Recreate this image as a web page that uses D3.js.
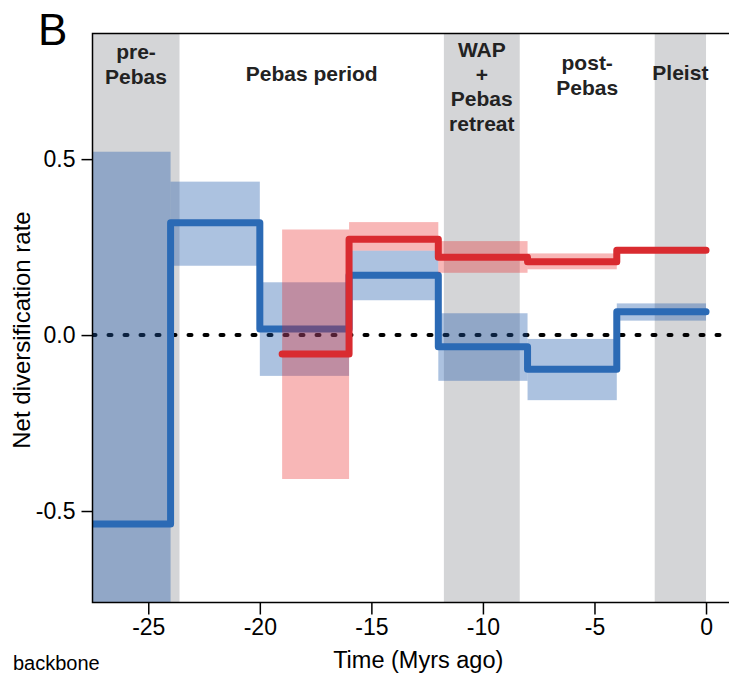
<!DOCTYPE html>
<html>
<head>
<meta charset="utf-8">
<script src="https://cdn.jsdelivr.net/npm/d3@7"></script>
<style>
  body { margin: 0; background: #fff; }
  text { font-family: "Liberation Sans", Arial, sans-serif; }
</style>
</head>
<body>
<div id="chart"></div>
<script>
// time slices (Myrs ago) and rates
var blueBreaks = [-27.5, -24, -20, -16, -12, -8, -4, 0];
var blueRate = [-0.537, 0.319, 0.017, 0.170, -0.033, -0.097, 0.066];
var blueLow = [-0.80, 0.197, -0.116, 0.099, -0.130, -0.185, 0.041];
var blueHigh = [0.521, 0.436, 0.150, 0.240, 0.062, -0.011, 0.090];

var redBreaks = [-19, -16, -12, -8, -4, 0];
var redRate = [-0.054, 0.272, 0.221, 0.208, 0.241];
var redLow = [-0.409, 0.240, 0.177, 0.187, 0.236];
var redHigh = [0.300, 0.321, 0.267, 0.232, 0.246];

// periods
var periodStart = [-27.5, -23.6, -11.75, -8.35, -2.3];
var periodEnd = [-23.6, -11.75, -8.35, -2.3, 0];
var periodShaded = [true, false, true, false, true];
var periodNames = [["pre-", "Pebas"], ["Pebas period"], ["WAP", "+", "Pebas", "retreat"], ["post-", "Pebas"], ["Pleist"]];
var periodTop = [59, 81, 57, 70, 80];

var xTicks = [-25, -20, -15, -10, -5, 0];
var yTicks = [-0.5, 0, 0.5];

var width = 729, height = 675;
var mLeft = 92.5, mTop = 33.5, mBottom = 602.5;

var svg = d3.select("#chart").append("svg")
  .attr("width", width)
  .attr("height", height);

var x = d3.scaleLinear().domain([-27.5, 1.5]).range([mLeft, mLeft + 29 * 22.31]);
var y = d3.scaleLinear().domain([-0.76, 0.857]).range([mBottom, mTop]);

svg.append("clipPath").attr("id", "plotclip")
  .append("rect")
  .attr("x", mLeft).attr("y", mTop)
  .attr("width", width - mLeft).attr("height", mBottom - mTop);

var plot = svg.append("g").attr("clip-path", "url(#plotclip)");

// shaded periods
var periods = d3.range(periodStart.length);
plot.selectAll("rect.band")
  .data(periods.filter(function(i) { return periodShaded[i]; }))
  .enter().append("rect")
  .attr("class", "band")
  .attr("x", function(i) { return x(periodStart[i]); })
  .attr("width", function(i) { return x(periodEnd[i]) - x(periodStart[i]); })
  .attr("y", mTop)
  .attr("height", mBottom - mTop)
  .attr("fill", "#d4d5d7");

// zero line
plot.append("line")
  .attr("x1", mLeft).attr("x2", width + 10)
  .attr("y1", y(0)).attr("y2", y(0))
  .attr("stroke", "#000")
  .attr("stroke-width", 4)
  .attr("stroke-linecap", "round")
  .attr("stroke-dasharray", "3,13");

function boxes(cls, breaks, low, high, col, op) {
  plot.selectAll("rect." + cls)
    .data(d3.range(low.length))
    .enter().append("rect")
    .attr("class", cls)
    .attr("x", function(i) { return x(breaks[i]); })
    .attr("width", function(i) { return x(breaks[i + 1]) - x(breaks[i]); })
    .attr("y", function(i) { return y(high[i]); })
    .attr("height", function(i) { return y(low[i]) - y(high[i]); })
    .attr("fill", col)
    .attr("fill-opacity", op);
}

function stepLine(breaks, rate, col) {
  var pts = rate.map(function(r, i) { return [breaks[i], r]; });
  pts.push([breaks[breaks.length - 1], rate[rate.length - 1]]);
  var line = d3.line()
    .x(function(d) { return x(d[0]); })
    .y(function(d) { return y(d[1]); })
    .curve(d3.curveStepAfter);
  plot.append("path")
    .attr("d", line(pts))
    .attr("fill", "none")
    .attr("stroke", col)
    .attr("stroke-width", 7)
    .attr("stroke-linejoin", "round")
    .attr("stroke-linecap", "round");
}

boxes("bluebox", blueBreaks, blueLow, blueHigh, "rgb(30,90,170)", 0.37);
stepLine(blueBreaks, blueRate, "#2b6ab5");
boxes("redbox", redBreaks, redLow, redHigh, "rgb(232,32,32)", 0.32);
stepLine(redBreaks, redRate, "#d92b30");

// period labels
periods.forEach(function(i) {
  var cx = x((periodStart[i] + periodEnd[i]) / 2);
  var t = svg.append("text")
    .attr("x", cx)
    .attr("y", periodTop[i])
    .attr("text-anchor", "middle")
    .attr("font-weight", "bold")
    .attr("font-size", 21)
    .attr("fill", "#222");
  periodNames[i].forEach(function(s, k) {
    t.append("tspan")
      .attr("x", cx)
      .attr("dy", k == 0 ? 0 : 24.5)
      .text(s);
  });
});

// frame (right side is off the page)
svg.append("path")
  .attr("d", "M" + (width + 5) + "," + mTop + "H" + mLeft + "V" + mBottom + "H" + (width + 5))
  .attr("fill", "none")
  .attr("stroke", "#000")
  .attr("stroke-width", 1.5);

// axes
var xAxis = svg.append("g")
  .attr("transform", "translate(0," + mBottom + ")")
  .call(d3.axisBottom(x).tickValues(xTicks).tickSize(12).tickPadding(4)
    .tickFormat(function(d) { return String(d); }));
xAxis.select(".domain").remove();
xAxis.selectAll("line").attr("stroke-width", 1.5);
xAxis.selectAll("text").attr("font-size", 23).attr("font-family", "Liberation Sans, Arial, sans-serif").attr("fill", "#000");

var yAxis = svg.append("g")
  .attr("transform", "translate(" + mLeft + ",0)")
  .call(d3.axisLeft(y).tickValues(yTicks).tickSize(11).tickPadding(6)
    .tickFormat(function(d) { return d.toFixed(1); }));
yAxis.select(".domain").remove();
yAxis.selectAll("line").attr("stroke-width", 1.5);
yAxis.selectAll("text").attr("font-size", 23).attr("font-family", "Liberation Sans, Arial, sans-serif").attr("fill", "#000");

svg.append("text")
  .attr("x", x(-12.9))
  .attr("y", 668)
  .attr("text-anchor", "middle")
  .attr("font-size", 23.5)
  .text("Time (Myrs ago)");

svg.append("text")
  .attr("transform", "translate(30,330) rotate(-90)")
  .attr("text-anchor", "middle")
  .attr("font-size", 24)
  .text("Net diversification rate");

svg.append("text")
  .attr("x", 38).attr("y", 45)
  .attr("font-size", 44)
  .text("B");

svg.append("text")
  .attr("x", 13).attr("y", 670)
  .attr("font-size", 20)
  .text("backbone");
</script>
</body>
</html>
